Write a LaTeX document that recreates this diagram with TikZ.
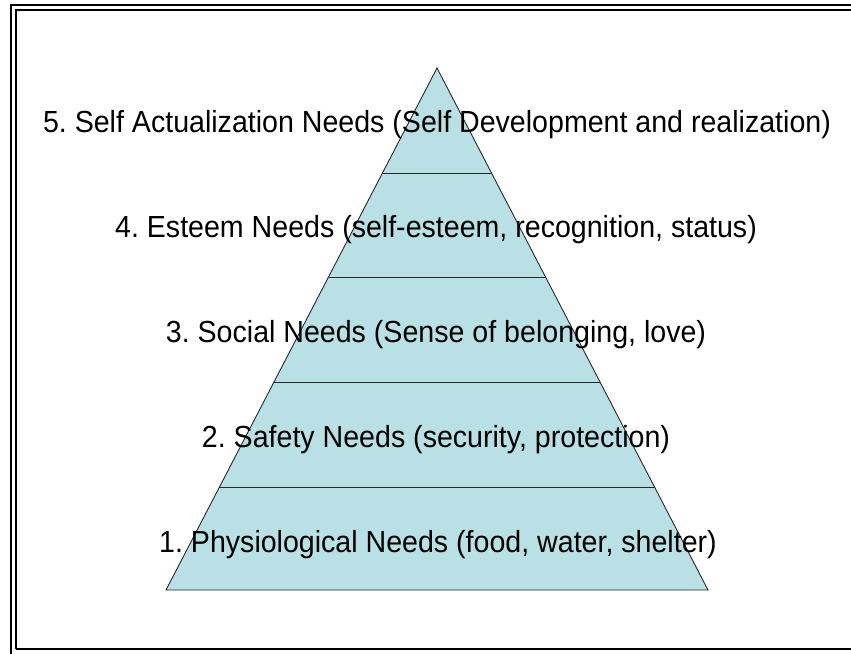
\documentclass[tikz,border=0pt]{standalone}
\usepackage{fontspec}
\setmainfont{Liberation Sans}
\definecolor{pyrfill}{RGB}{185,224,228}
\definecolor{pyrline}{RGB}{40,40,40}
\usetikzlibrary{calc}
\newcommand{\lvltext}[1]{\scalebox{0.937}[1]{#1}}
\frenchspacing

\begin{document}
\begin{tikzpicture}[x=1pt,y=-1pt,
    every node/.style={font=\fontsize{30.5}{36}\selectfont,inner sep=0pt,anchor=base},
    frame/.style={line width=2pt,black},
    tier/.style={line width=0.9pt,pyrline}]
  \useasboundingbox (0,0) rectangle (851,653);
  % double frame, cut off at right and bottom
  \draw[frame] (11,660) -- (11,5) -- (860,5);
  \draw[frame] (16,649) -- (16,10) -- (860,10);
  \draw[frame] (16,649) -- (860,649);
  % pyramid
  \coordinate (apex) at (437,68);
  \coordinate (baseL) at (166,590);
  \coordinate (baseR) at (708,590);
  \filldraw[tier,fill=pyrfill] (apex) -- (baseL) -- (baseR) -- cycle;
  \foreach \y in {173,277,382,487}
    \draw[tier] ($(apex)!{(\y-68)/522}!(baseL)$) -- ($(apex)!{(\y-68)/522}!(baseR)$);
  % levels
  \node (lvl5) at (437,132) {\lvltext{5. Self Actualization Needs (Self Development and realization)}};
  \node (lvl4) at (436,237) {\lvltext{4. Esteem Needs (self-esteem, recognition, status)}};
  \node (lvl3) at (436,342) {\lvltext{3. Social Needs (Sense of belonging, love)}};
  \node (lvl2) at (436,447) {\lvltext{2. Safety Needs (security, protection)}};
  \node (lvl1) at (438,552) {\lvltext{1. Physiological Needs (food, water, shelter)}};
\end{tikzpicture}
\end{document}
